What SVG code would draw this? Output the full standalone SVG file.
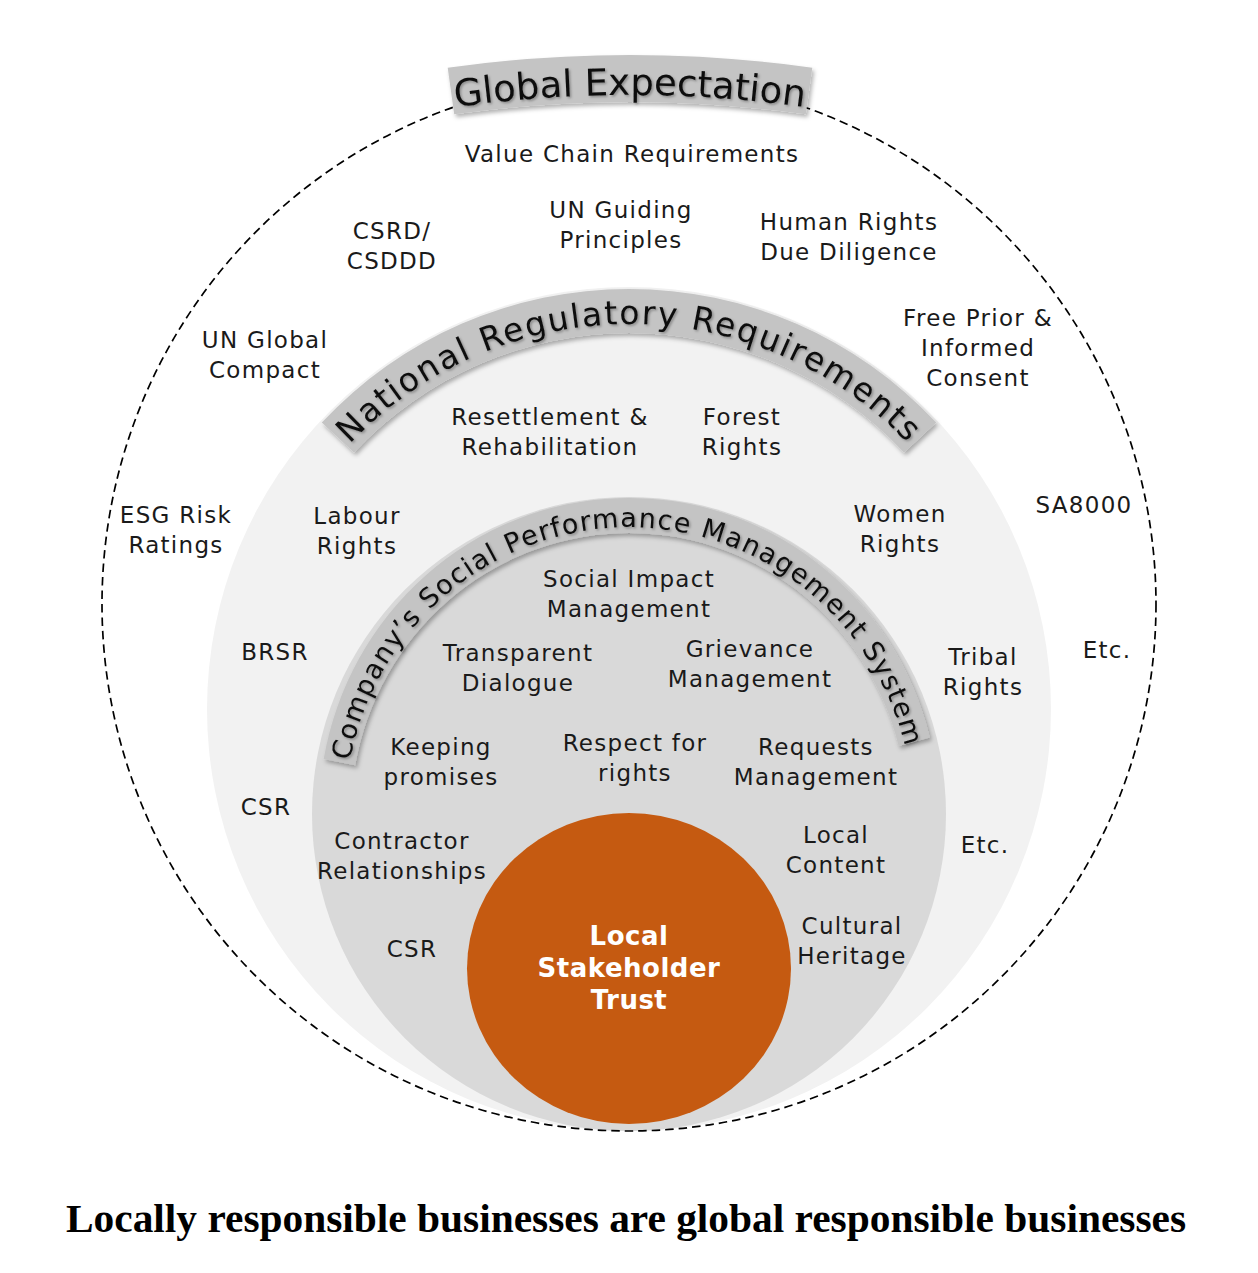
<svg xmlns="http://www.w3.org/2000/svg" width="1258" height="1273" viewBox="0 0 1258 1273">
<style>
.t{font-family:"DejaVu Sans","Liberation Sans",sans-serif;font-size:23px;letter-spacing:1.3px;fill:#1a1a1a;text-anchor:middle}
.arc{font-family:"DejaVu Sans","Liberation Sans",sans-serif;fill:#111;text-anchor:middle}
.band{fill:#c4c4c4}
.cap{font-family:"Liberation Serif","DejaVu Serif",serif;font-weight:bold;font-size:41px;fill:#000}
.trust{font-family:"DejaVu Sans","Liberation Sans",sans-serif;font-weight:bold;font-size:26px;letter-spacing:0.5px;fill:#fff;text-anchor:middle}
</style>
<defs>
<filter id="sh" x="-10%" y="-20%" width="120%" height="140%">
<feDropShadow dx="2" dy="3" stdDeviation="2" flood-color="#000" flood-opacity="0.3"/>
</filter>
<filter id="tsh" x="-10%" y="-20%" width="120%" height="140%">
<feDropShadow dx="1.5" dy="1.5" stdDeviation="1" flood-color="#000" flood-opacity="0.3"/>
</filter>
<path id="pGlobal" d="M -5,265.1 A1270,1270 0 0 1 1265,265.1"/>
<path id="pNat" d="M 244,709 A385,385 0 0 1 1014,709"/>
<path id="pComp" d="M 345.3,827.5 A284,287 0 1 1 913,814"/>
</defs>
<rect width="1258" height="1273" fill="#fff"/>

<g id="ring-national">
<circle cx="629" cy="709" r="422" fill="#f2f2f2"/>
</g>
<g id="ring-company">
<circle cx="629" cy="814" r="317" fill="#d9d9d9"/>
</g>
<g id="ring-global">
<circle cx="629" cy="604" r="527" fill="none" stroke="#000" stroke-width="1.7" stroke-dasharray="8.5 5"/>
</g>
<g id="core">
<ellipse cx="629" cy="968.5" rx="162" ry="155.5" fill="#c55a11"/>
<text class="trust" x="629" y="945">Local</text>
<text class="trust" x="629" y="977">Stakeholder</text>
<text class="trust" x="629" y="1009">Trust</text>
</g>

<g id="title-global">
<path class="band" filter="url(#sh)" d="M447.7,67.7 A1310,1310 0 0 1 812.3,67.7 L805.8,114.3 A1263,1263 0 0 0 454.2,114.3 Z"/>
<text class="arc" font-size="37" filter="url(#tsh)"><textPath href="#pGlobal" startOffset="50%">Global Expectation</textPath></text>
</g>
<g id="title-national">
<path class="band" filter="url(#sh)" d="M321.8,422.6 A420,420 0 0 1 936.2,422.6 L904,452.6 A376,376 0 0 0 354,452.6 Z"/>
<text class="arc" font-size="33" letter-spacing="1.8" filter="url(#tsh)"><textPath href="#pNat" startOffset="50%">National Regulatory Requirements</textPath></text>
</g>
<g id="title-company">
<path class="band" filter="url(#sh)" d="M323.7,759.1 A310,316 0 0 1 929.8,737.6 L898.7,746 A278,281 0 0 0 355.2,765.2 Z"/>
<text class="arc" font-size="27" letter-spacing="1.3" filter="url(#tsh)"><textPath href="#pComp" startOffset="50%">Company’s Social Performance Management System</textPath></text>
</g>

<g id="value-chain"><text class="t" x="632" y="162">Value Chain Requirements</text></g>
<g id="un-guiding"><text class="t" x="621" y="218">UN Guiding<tspan x="621" dy="30">Principles</tspan></text></g>
<g id="csrd"><text class="t" x="392" y="239">CSRD/<tspan x="392" dy="30">CSDDD</tspan></text></g>
<g id="hrdd"><text class="t" x="849" y="230">Human Rights<tspan x="849" dy="30">Due Diligence</tspan></text></g>
<g id="ungc"><text class="t" x="265" y="348">UN Global<tspan x="265" dy="30">Compact</tspan></text></g>
<g id="fpic"><text class="t" x="978" y="326">Free Prior &amp;<tspan x="978" dy="30">Informed</tspan><tspan x="978" dy="30">Consent</tspan></text></g>
<g id="resettlement"><text class="t" x="550" y="425">Resettlement &amp;<tspan x="550" dy="30">Rehabilitation</tspan></text></g>
<g id="forest"><text class="t" x="742" y="425">Forest<tspan x="742" dy="30">Rights</tspan></text></g>
<g id="esg"><text class="t" x="176" y="523">ESG Risk<tspan x="176" dy="30">Ratings</tspan></text></g>
<g id="labour"><text class="t" x="357" y="524">Labour<tspan x="357" dy="30">Rights</tspan></text></g>
<g id="women"><text class="t" x="900" y="522">Women<tspan x="900" dy="30">Rights</tspan></text></g>
<g id="sa8000"><text class="t" x="1084" y="513">SA8000</text></g>
<g id="social-impact"><text class="t" x="629" y="587">Social Impact<tspan x="629" dy="30">Management</tspan></text></g>
<g id="brsr"><text class="t" x="275" y="660">BRSR</text></g>
<g id="transparent"><text class="t" x="518" y="661">Transparent<tspan x="518" dy="30">Dialogue</tspan></text></g>
<g id="grievance"><text class="t" x="750" y="657">Grievance<tspan x="750" dy="30">Management</tspan></text></g>
<g id="tribal"><text class="t" x="983" y="665">Tribal<tspan x="983" dy="30">Rights</tspan></text></g>
<g id="etc-outer"><text class="t" x="1107" y="658">Etc.</text></g>
<g id="keeping"><text class="t" x="441" y="755">Keeping<tspan x="441" dy="30">promises</tspan></text></g>
<g id="respect"><text class="t" x="635" y="751">Respect for<tspan x="635" dy="30">rights</tspan></text></g>
<g id="requests"><text class="t" x="816" y="755">Requests<tspan x="816" dy="30">Management</tspan></text></g>
<g id="csr-outer"><text class="t" x="266" y="815">CSR</text></g>
<g id="contractor"><text class="t" x="402" y="849">Contractor<tspan x="402" dy="30">Relationships</tspan></text></g>
<g id="local-content"><text class="t" x="836" y="843">Local<tspan x="836" dy="30">Content</tspan></text></g>
<g id="etc-inner"><text class="t" x="985" y="853">Etc.</text></g>
<g id="csr-inner"><text class="t" x="412" y="957">CSR</text></g>
<g id="cultural"><text class="t" x="852" y="934">Cultural<tspan x="852" dy="30">Heritage</tspan></text></g>

<g id="caption"><text class="cap" x="66" y="1232" textLength="1120" lengthAdjust="spacingAndGlyphs">Locally responsible businesses are global responsible businesses</text></g>
</svg>
